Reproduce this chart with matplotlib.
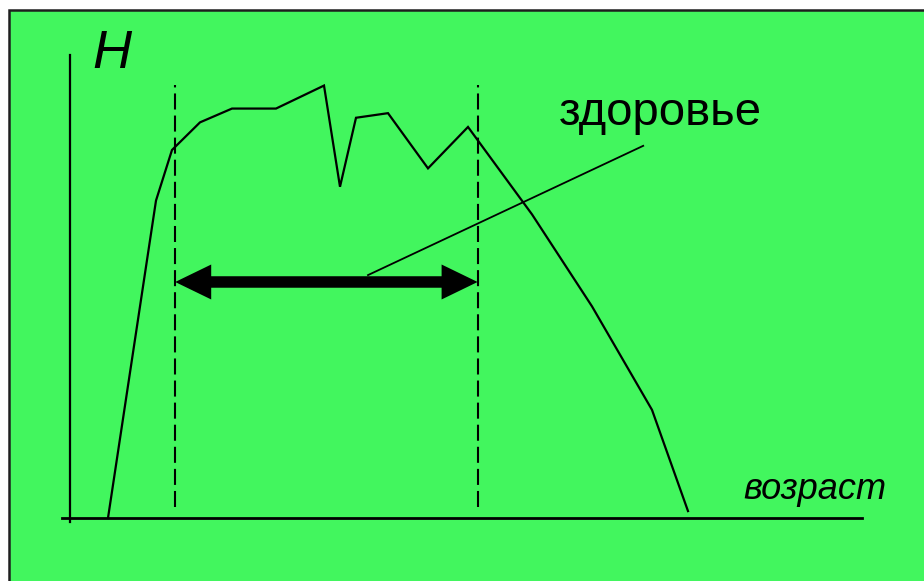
import matplotlib.pyplot as plt
import matplotlib.patches as mpatches

# health curve H(age) - schematic values
age = [5, 11, 13, 16.5, 20.5, 26, 32, 34, 36, 40, 45, 50, 58, 65.5, 73, 77.5]
H = [0, 69, 80, 86, 89, 89, 94, 72, 87, 88, 76, 85, 66, 46, 23.5, 1.5]

# "health" window
window_start, window_end = 13.4, 51.2
arrow_level = 51.3

green = '#42F65E'

fig = plt.figure(figsize=(9.24, 5.81), dpi=100)
fig.patch.set_facecolor('white')

# slide background with dark frame (top/left visible), kept behind the axes
fig.patches.append(mpatches.Rectangle((9 / 924, -0.05), 1.1, 1 - 9.5 / 581 + 0.05,
                                      transform=fig.transFigure, facecolor=green,
                                      edgecolor='#1e1e1e', linewidth=1.8, zorder=-10))

ax = fig.add_axes([0, 0, 1, 1])
ax.set_xlim(-8.5, 107)
ax.set_ylim(-13.7, 112.6)
ax.axis('off')
ax.patch.set_alpha(0)

# axes
ax.plot([0.2, 0.2], [-0.9, 100.7], color='black', lw=1.6)
ax.plot([-0.75, 99.25], [0, 0], color='black', lw=2)

# curve
ax.plot(age, H, color='black', lw=1.6, solid_joinstyle='miter')

# dashed borders of the window
for xv in (window_start, window_end):
    ax.plot([xv, xv], [2.4, 94.1], color='black', lw=1.5, dashes=(7.7, 2.9))

# double arrow as one polygon
hl, hw, sw = 4.5, 3.8, 1.25
xs, xe, y = window_start, window_end, arrow_level
ax.fill([xs, xs + hl, xs + hl, xe - hl, xe - hl, xe, xe - hl, xe - hl, xs + hl, xs + hl],
        [y, y + hw, y + sw, y + sw, y + hw, y, y - hw, y - sw, y - sw, y - hw],
        color='black', lw=0)

# pointer line to label
ax.plot([37.5, 71.9], [52.8, 80.9], color='black', lw=1.3)

ax.text(3.0, 97.8, 'H', fontsize=39, style='italic', family='Liberation Sans',
        ha='left', va='baseline')
ax.text(61.4, 85.4, 'здоровье', fontsize=34, family='Liberation Sans',
        ha='left', va='baseline')
ax.text(84.4, 4.1, 'возраст', fontsize=26, style='italic', family='Liberation Sans',
        ha='left', va='baseline')

fig.savefig('out.png', dpi=100, facecolor=fig.get_facecolor())
